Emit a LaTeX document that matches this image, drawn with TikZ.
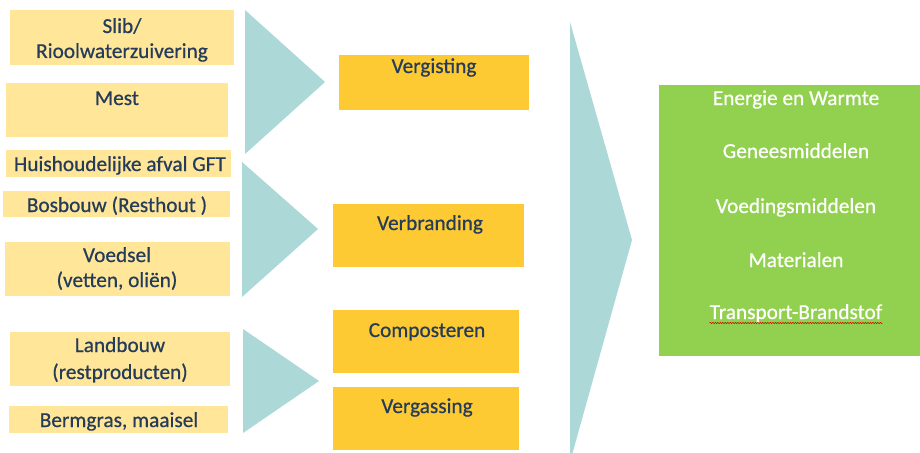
\documentclass[tikz,border=0pt]{standalone}
\usepackage{fontspec}
\setmainfont{Carlito}[FakeBold=0.6]
\newfontfamily\labelfont{Carlito}[FakeBold=0.6, UprightFeatures={FakeBold=0.6}]
\usetikzlibrary{decorations.pathmorphing}
\definecolor{lightgold}{HTML}{FFE699}
\definecolor{gold}{HTML}{FDCA33}
\definecolor{leaf}{HTML}{92D050}
\definecolor{teal}{HTML}{ACD8D7}
\definecolor{navy}{HTML}{243B5A}
\tikzset{
  srcbox/.style={fill=lightgold, draw=none, inner sep=0pt, anchor=north west},
  procbox/.style={fill=gold, draw=none, inner sep=0pt, anchor=north west},
  outbox/.style={fill=leaf, draw=none, inner sep=0pt, anchor=north west},
  funnel/.style={fill=teal, draw=none},
  txt/.style={inner sep=0pt, anchor=base, text=navy, font=\labelfont\fontsize{21.3}{25}\selectfont},
  wtxt/.style={inner sep=0pt, anchor=base, text=white, font=\labelfont\fontsize{21.3}{25}\selectfont},
}
\begin{document}
\begin{tikzpicture}[x=1pt, y=-1pt]
\useasboundingbox (0,0) rectangle (920,452);
\fill[white] (0,0) rectangle (920,452);
% source boxes
\node[srcbox, minimum width=224pt, minimum height=55pt] (slib) at (10,10) {};
\node[srcbox, minimum width=222pt, minimum height=54pt] (mest) at (6,83) {};
\node[srcbox, minimum width=225pt, minimum height=27pt] (huis) at (6,150) {};
\node[srcbox, minimum width=227pt, minimum height=26pt] (bos) at (3,191) {};
\node[srcbox, minimum width=225pt, minimum height=54pt] (voed) at (5,242) {};
\node[srcbox, minimum width=220pt, minimum height=54pt] (land) at (10,332) {};
\node[srcbox, minimum width=219pt, minimum height=27pt] (berm) at (9,406) {};
\node[txt] (slibA) at (122,33) {Slib/};
\node[txt] (slibB) at (122,58) {Rioolwaterzuivering};
\node[txt] (mestA) at (117,105) {Mest};
\node[txt] (huisA) at (120,171) {Huishoudelijke afval GFT};
\node[txt] (bosA) at (117,212) {Bosbouw (Resthout )};
\node[txt] (voedA) at (117,262) {Voedsel};
\node[txt] (voedB) at (117,287) {(vetten, oliën)};
\node[txt] (landA) at (120,352) {Landbouw};
\node[txt] (landB) at (120,379) {(restproducten)};
\node[txt] (bermA) at (119,427) {Bermgras, maaisel};
% funnels
\fill[funnel] (245,10) -- (325,82) -- (245,154) -- cycle;
\fill[funnel] (242,162) -- (318,229) -- (242,297) -- cycle;
\fill[funnel] (243,329) -- (319,381) -- (243,433) -- cycle;
\fill[funnel] (570,22) -- (632,240) -- (570,462) -- cycle;
% process boxes
\node[procbox, minimum width=190pt, minimum height=55pt] (verg) at (339,55) {};
\node[procbox, minimum width=191pt, minimum height=63pt] (verb) at (333,204) {};
\node[procbox, minimum width=186pt, minimum height=63pt] (comp) at (333,310) {};
\node[procbox, minimum width=186pt, minimum height=63pt] (vgas) at (333,387) {};
\node[txt] (vergA) at (434,73) {Vergisting};
\node[txt] (verbA) at (430,230) {Verbranding};
\node[txt] (compA) at (427,337) {Composteren};
\node[txt] (vgasA) at (427,413) {Vergassing};
% output box
\node[outbox, minimum width=262pt, minimum height=271pt] (out) at (659,85) {};
\node[wtxt] (o1) at (796,105) {Energie en Warmte};
\node[wtxt] (o2) at (796,158) {Geneesmiddelen};
\node[wtxt] (o3) at (796,213) {Voedingsmiddelen};
\node[wtxt] (o4) at (796,267) {Materialen};
\node[wtxt] (o5) at (796,319) {Transport-Brandstof};
\draw[red!80!black, line width=0.5pt, decorate, decoration={snake, amplitude=0.6pt, segment length=2.5pt}]
  ([yshift=-4pt]o5.base west) -- ([yshift=-4pt]o5.base east);
\end{tikzpicture}
\end{document}
